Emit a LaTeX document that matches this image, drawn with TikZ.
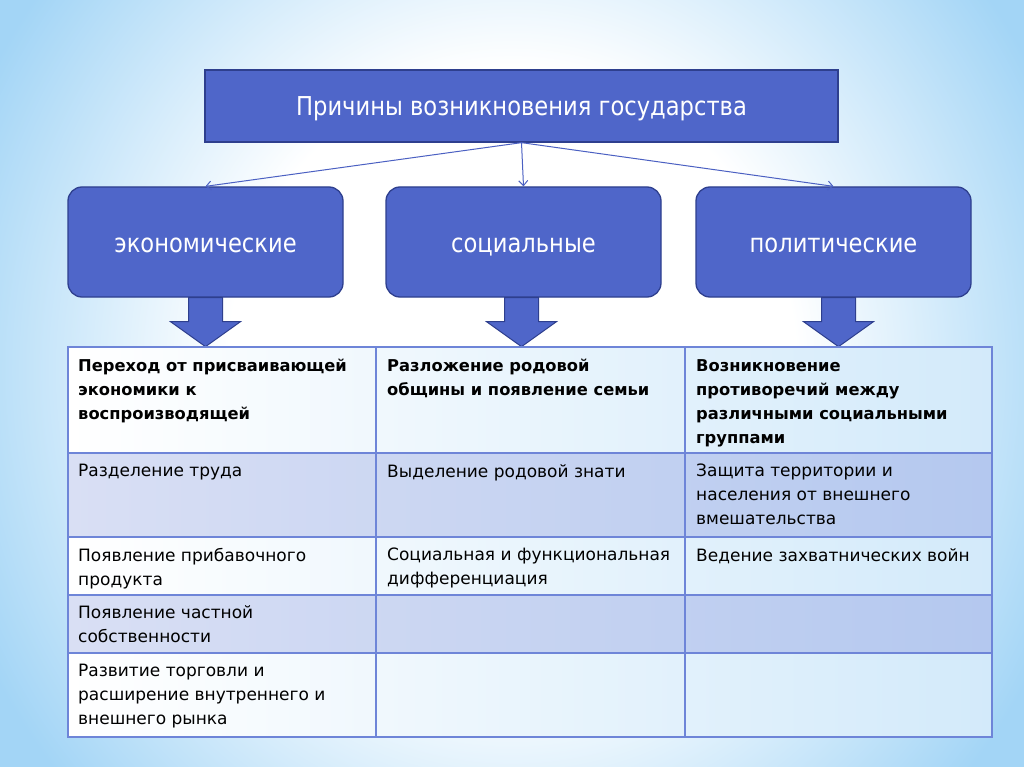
\documentclass[tikz,border=0pt]{standalone}
\usepackage{fontspec}
\setmainfont{DejaVu Sans}
\newfontfamily\headfont[FakeStretch=0.87]{DejaVu Sans}
\usetikzlibrary{arrows.meta, positioning}
\definecolor{boxblue}{HTML}{4F66C9}
\definecolor{boxedge}{HTML}{2E3F8E}
\definecolor{linkblue}{HTML}{4B60C2}
\definecolor{gridblue}{HTML}{6E85D8}
\definecolor{skyblue}{HTML}{A3D5F6}
\definecolor{lavlight}{HTML}{D9DFF4}
\definecolor{lavdark}{HTML}{B4C8EF}
\definecolor{rowwhite}{HTML}{D3EAFA}
\pgfdeclareradialshading{glow}{\pgfpoint{0bp}{0bp}}{color(0bp)=(white); color(12bp)=(white); color(25bp)=(skyblue); color(50bp)=(skyblue)}

\begin{document}
\begin{tikzpicture}[x=1pt, y=-1pt,
  bluebox/.style={draw=boxedge, fill=boxblue, line width=1.3pt, text=white, text height=25pt, text depth=5pt, font=\headfont\fontsize{26}{30}\selectfont},
  kindbox/.style={bluebox, rounded corners=14pt, minimum width=275pt, minimum height=110pt},
  link/.style={draw=linkblue, line width=1pt, -{Straight Barb[length=5pt, width=9pt]}},
  fat/.style={draw=boxedge, fill=boxblue, line width=1pt},
  grid/.style={draw=gridblue, line width=1.4pt},
  cell/.style={anchor=north west, align=left, inner sep=0pt, font=\fontsize{17}{24}\selectfont},
  hcell/.style={cell, font=\bfseries\fontsize{16.3}{24}\selectfont}]

\useasboundingbox (0,0) rectangle (1024,767);
\shade[shading=glow] (-80,-260) rectangle (1104,1000);

\node[bluebox, minimum width=633pt, minimum height=72pt] (cause) at (521.5,106) {Причины возникновения государства};
\node[kindbox] (eco) at (205.5,242) {экономические};
\node[kindbox] (soc) at (523.5,242) {социальные};
\node[kindbox] (pol) at (833.5,242) {политические};

\draw[link] (cause.south) -- (eco.north);
\draw[link] (cause.south) -- (soc.north);
\draw[link] (cause.south) -- (pol.north);

\foreach \k/\dx in {eco/0, soc/-2, pol/5}
  \draw[fat, shift={(\k.south)}, xshift=\dx] (-17,0) -- (17,0) -- (17,24) -- (35,24) -- (0,49) -- (-35,24) -- (-17,24) -- cycle;

\shade[left color=white, right color=rowwhite] (68,347) rectangle (992,453);
\shade[left color=lavlight, right color=lavdark] (68,453) rectangle (992,537);
\shade[left color=white, right color=rowwhite] (68,537) rectangle (992,595);
\shade[left color=lavlight, right color=lavdark] (68,595) rectangle (992,653);
\shade[left color=white, right color=rowwhite] (68,653) rectangle (992,737);

\draw[grid] (68,347) rectangle (992,737);
\foreach \y in {537,595,653} \draw[grid] (68,\y) -- (992,\y);
\draw[grid, line width=2.6pt] (68,453) -- (992,453);
\foreach \x in {376,685} \draw[grid] (\x,347) -- (\x,737);

\node[hcell] (e1) at (78,359) {Переход от присваивающей\\экономики к\\воспроизводящей};
\node[cell] (e2) at (78,464) {Разделение труда};
\node[cell] (e3) at (78,548) {Появление прибавочного\\продукта};
\node[cell] (e4) at (78,605) {Появление частной\\собственности};
\node[cell] (e5) at (78,664) {Развитие торговли и\\расширение внутреннего и\\внешнего рынка};

\node[hcell] (s1) at (387,359) {Разложение родовой\\общины и появление семьи};
\node[cell] (s2) at (387,464) {Выделение родовой знати};
\node[cell] (s3) at (387,548) {Социальная и функциональная\\дифференциация};

\node[hcell] (p1) at (696,359) {Возникновение\\противоречий между\\различными социальными\\группами};
\node[cell] (p2) at (696,464) {Защита территории и\\населения от внешнего\\вмешательства};
\node[cell] (p3) at (696,548) {Ведение захватнических войн};
\end{tikzpicture}
\end{document}
